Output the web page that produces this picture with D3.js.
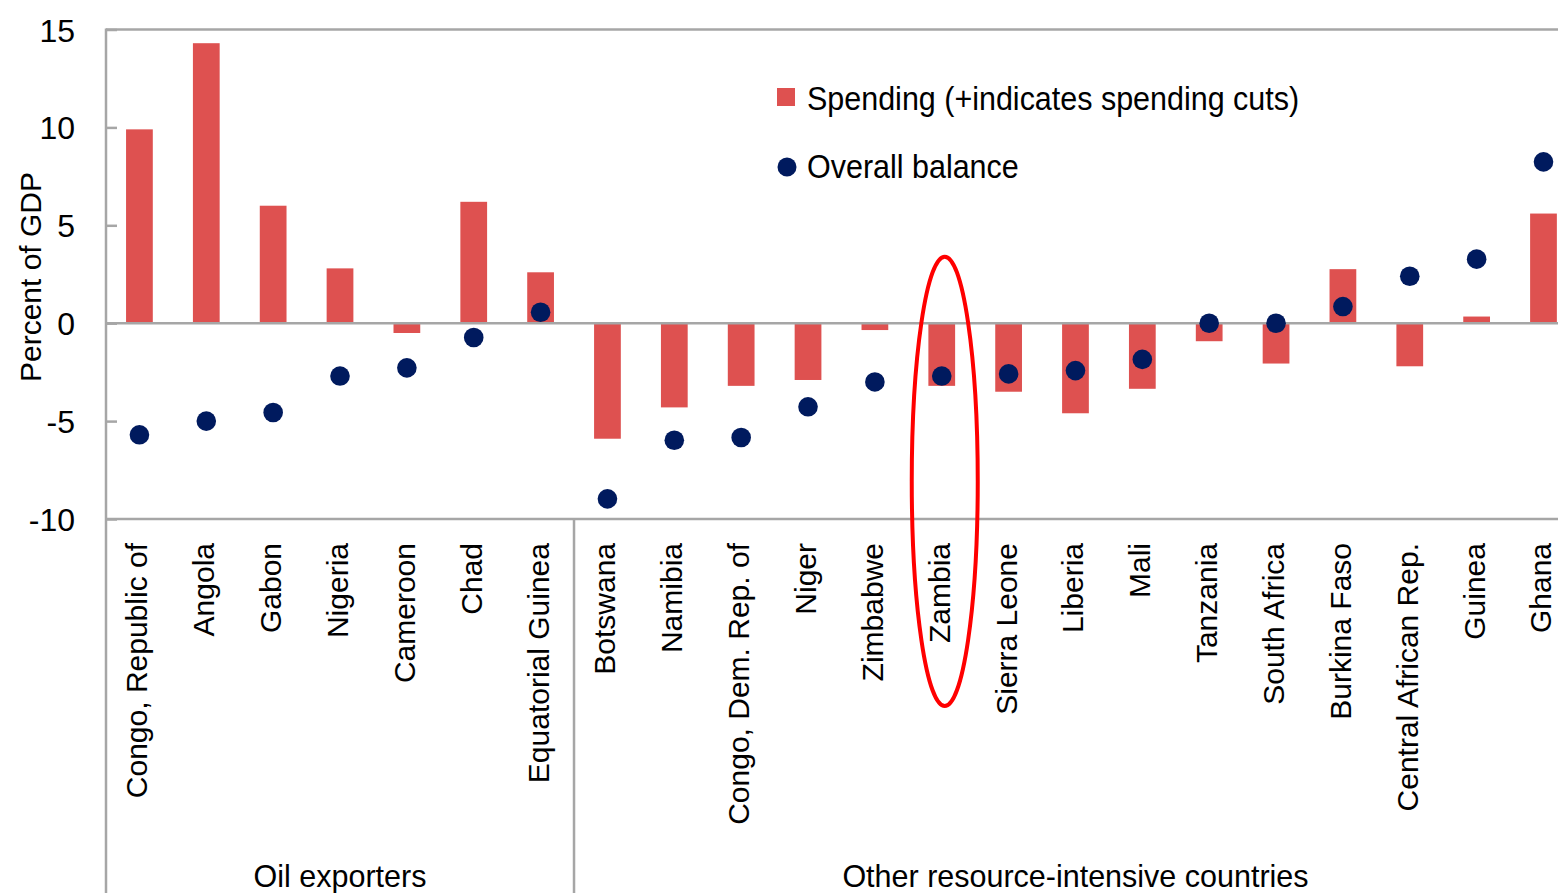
<!DOCTYPE html>
<html>
<head>
<meta charset="utf-8">
<script src="https://cdn.jsdelivr.net/npm/d3@7"></script>
<style>
  html, body { margin: 0; padding: 0; background: #fff; }
  svg { display: block; overflow: hidden; }
  text { font-family: "Liberation Sans", Arial, sans-serif; fill: #000; }
</style>
</head>
<body>
<svg id="chart" width="1558" height="893"></svg>
<script>
// ---- data ----
const categories = ["Congo, Republic of","Angola","Gabon","Nigeria","Cameroon","Chad","Equatorial Guinea",
  "Botswana","Namibia","Congo, Dem. Rep. of","Niger","Zimbabwe","Zambia","Sierra Leone","Liberia","Mali",
  "Tanzania","South Africa","Burkina Faso","Central African Rep.","Guinea","Ghana"];
const groups = ["Oil exporters","Other resource-intensive countries"];
const groupSizes = [7, 15];
const spending = [9.9, 14.3, 6.0, 2.8, -0.5, 6.2, 2.6,
  -5.9, -4.3, -3.2, -2.9, -0.35, -3.2, -3.5, -4.6, -3.35, -0.92, -2.06, 2.76, -2.2, 0.34, 5.6];
const balance = [-5.7, -5.0, -4.56, -2.7, -2.28, -0.73, 0.56,
  -8.97, -5.98, -5.84, -4.27, -3.0, -2.7, -2.59, -2.42, -1.85, 0.0, 0.0, 0.85, 2.4, 3.27, 8.24];
const yTicks = [-10, -5, 0, 5, 10, 15];
const yTickLabels = ["-10", "-5", "0", "5", "10", "15"];
const legendLabels = ["Spending (+indicates spending cuts)", "Overall balance"];
const highlighted = "Zambia";

// ---- layout ----
const W = 1558, H = 893;
const plotLeft = 106, plotTop = 29.5, plotBottom = 519;
const step = 66.86;
const plotRight = plotLeft + categories.length * step; // extends past the visible edge
const red = "#DE5150", navy = "#001A5E", grey = "#A6A6A6";

const svg = d3.select("#chart");
const x = d3.scaleBand().domain(categories).range([plotLeft, plotRight]).paddingInner(0.6).paddingOuter(0.3);
const xc = d => x(d) + x.bandwidth() / 2;
const y = d3.scaleLinear().domain([-10, 15]).range([plotBottom, plotTop]);

// top frame line
svg.append("line").attr("x1", plotLeft).attr("x2", W).attr("y1", y(15)).attr("y2", y(15))
  .attr("stroke", grey).attr("stroke-width", 2.5);

// y axis
const yAxis = d3.axisLeft(y).tickValues(yTicks).tickSize(-11).tickPadding(0)
  .tickFormat((d, i) => yTickLabels[i]);
const ya = svg.append("g").attr("transform", `translate(${plotLeft},0)`).call(yAxis);
ya.select(".domain").remove();
ya.selectAll(".tick line").attr("stroke", grey).attr("stroke-width", 2.5);
ya.selectAll(".tick text").attr("x", -31).attr("dy", "0.36em").attr("fill", "#000")
  .style("font-size", "32px").style("font-family", "'Liberation Sans', Arial, sans-serif");
svg.append("line").attr("x1", plotLeft).attr("x2", plotLeft).attr("y1", y(15) - 1).attr("y2", H)
  .attr("stroke", grey).attr("stroke-width", 2.5);

// bottom line
svg.append("line").attr("x1", plotLeft).attr("x2", W).attr("y1", y(-10)).attr("y2", y(-10))
  .attr("stroke", grey).attr("stroke-width", 2.5);

// bars
svg.append("g").selectAll("rect").data(categories).join("rect")
  .attr("x", d => x(d))
  .attr("width", x.bandwidth())
  .attr("y", (d, i) => y(Math.max(0, spending[i])))
  .attr("height", (d, i) => Math.abs(y(spending[i]) - y(0)))
  .attr("fill", red);

// zero line
svg.append("line").attr("x1", plotLeft).attr("x2", W).attr("y1", y(0)).attr("y2", y(0))
  .attr("stroke", grey).attr("stroke-width", 2.5);

// dots
svg.append("g").selectAll("circle").data(categories).join("circle")
  .attr("cx", d => xc(d))
  .attr("cy", (d, i) => y(balance[i]))
  .attr("r", 9.8)
  .attr("fill", navy);

// category labels
svg.append("g").selectAll("text").data(categories).join("text")
  .attr("transform", d => `translate(${xc(d) - 1},${plotBottom + 24}) rotate(-90)`)
  .attr("text-anchor", "end")
  .attr("dy", "0.3em")
  .style("font-size", "30px")
  .text(d => d);

// group separators and labels
let start = 0;
groups.forEach((g, gi) => {
  const first = categories[start], last = categories[start + groupSizes[gi] - 1];
  const gap = (x.step() - x.bandwidth()) / 2;
  const gx0 = x(first) - gap;
  const gx1 = x(last) + x.bandwidth() + gap;
  if (gi > 0) {
    svg.append("line").attr("x1", gx0).attr("x2", gx0).attr("y1", plotBottom).attr("y2", H)
      .attr("stroke", grey).attr("stroke-width", 2.5);
  }
  svg.append("text").attr("x", (gx0 + gx1) / 2).attr("y", 887)
    .attr("text-anchor", "middle").style("font-size", "30.5px").text(g);
  start += groupSizes[gi];
});

// y axis title
svg.append("text").attr("transform", `translate(41,277) rotate(-90)`)
  .attr("text-anchor", "middle").style("font-size", "30px").text("Percent of GDP");

// legend
const lg = svg.append("g");
lg.append("rect").attr("x", 777).attr("y", 88).attr("width", 18).attr("height", 18).attr("fill", red);
lg.append("circle").attr("cx", 787).attr("cy", 167).attr("r", 9.5).attr("fill", navy);
lg.append("text").attr("transform", "translate(807,110) scale(0.91,1)")
  .style("font-size", "33.5px").text(legendLabels[0]);
lg.append("text").attr("transform", "translate(807,178) scale(0.91,1)")
  .style("font-size", "33.5px").text(legendLabels[1]);

// highlight ellipse around Zambia
svg.append("ellipse")
  .attr("cx", xc(highlighted) + 3)
  .attr("cy", (y(3.4) + 706) / 2)
  .attr("rx", 33)
  .attr("ry", (706 - y(3.4)) / 2)
  .attr("fill", "none").attr("stroke", "#FF0000").attr("stroke-width", 4);
</script>
</body>
</html>
